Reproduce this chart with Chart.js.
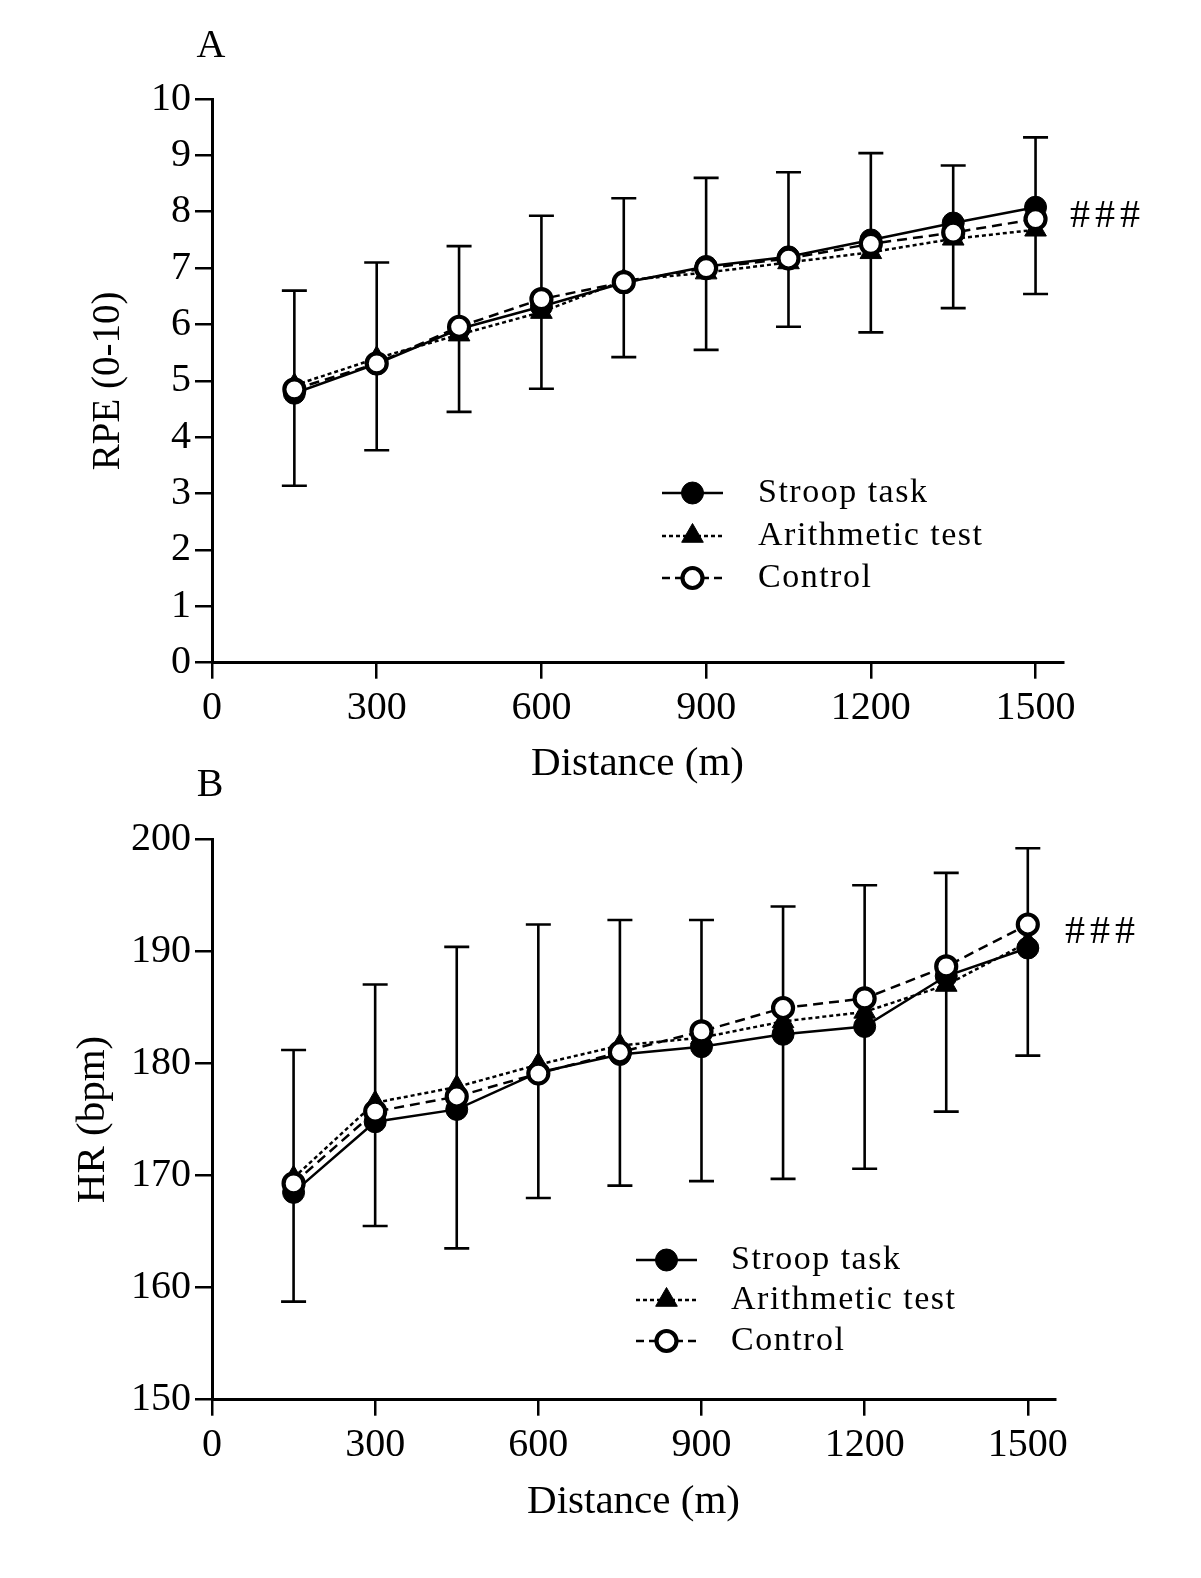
<!DOCTYPE html>
<html><head><meta charset="utf-8">
<style>
html,body{margin:0;padding:0;background:#fff;}
body{width:1201px;height:1578px;position:relative;overflow:hidden;}
canvas{position:absolute;left:0;}
#cA{top:0;}
#cB{top:740px;}
</style>
<script src="https://cdn.jsdelivr.net/npm/chart.js@4.4.1/dist/chart.umd.min.js"></script>
</head><body>
<canvas id="cA" width="1201" height="800"></canvas>
<canvas id="cB" width="1201" height="838"></canvas>
<script>
// ---------- data ----------
const distances = [150, 300, 450, 600, 750, 900, 1050, 1200, 1350, 1500];
const xTickValues = [0, 300, 600, 900, 1200, 1500];
const seriesNames = ['Stroop task', 'Arithmetic test', 'Control'];

const rpeStroop  = [4.78, 5.30, 5.92, 6.32, 6.74, 7.03, 7.20, 7.50, 7.80, 8.08];
const rpeArith   = [4.92, 5.40, 5.82, 6.22, 6.78, 6.92, 7.10, 7.28, 7.52, 7.68];
const rpeControl = [4.85, 5.31, 5.96, 6.45, 6.75, 7.00, 7.17, 7.43, 7.63, 7.87];
const rpeErrHigh = [6.60, 7.10, 7.39, 7.93, 8.24, 8.60, 8.70, 9.04, 8.82, 9.32];
const rpeErrLow  = [3.14, 3.77, 4.45, 4.86, 5.42, 5.55, 5.96, 5.86, 6.29, 6.54];

const hrStroop  = [168.5, 174.8, 175.9, 179.2, 180.8, 181.5, 182.6, 183.3, 187.8, 190.3];
const hrArith   = [169.8, 176.5, 177.9, 179.9, 181.6, 182.3, 183.75, 184.6, 187.0, 190.8];
const hrControl = [169.3, 175.7, 177.05, 179.1, 181.0, 182.86, 184.95, 185.8, 188.66, 192.4];
const hrErrHigh = [181.2, 187.05, 190.4, 192.4, 192.8, 192.8, 194.0, 195.9, 197.0, 199.2];
const hrErrLow  = [158.75, 165.5, 163.5, 168.0, 169.1, 169.5, 169.7, 170.6, 175.7, 180.7];

const sigMark = '###';

// ---------- styling ----------
const SERIF = "'Liberation Serif', 'Times New Roman', serif";
const styles = [
  {dash: [], legendDash: [], shape: 'circle', radius: 11, fill: '#000', bw: 1},
  {dash: [4, 3], legendDash: [4, 3], shape: 'triangle', radius: 12.5, fill: '#000', bw: 1},
  {dash: [10, 6], legendDash: [8, 5], shape: 'circle', radius: 10, fill: '#fff', bw: 4.2}
];
const drawOrder = [1, 2, 0];

function drawMarker(ctx, st, x, y) {
  ctx.save();
  ctx.setLineDash([]);
  ctx.fillStyle = st.fill;
  ctx.strokeStyle = '#000';
  ctx.lineWidth = st.bw;
  ctx.beginPath();
  if (st.shape === 'circle') {
    ctx.arc(x, y, st.radius, 0, Math.PI * 2);
  } else {
    let rad = 0;
    ctx.moveTo(x + Math.sin(rad) * st.radius, y - Math.cos(rad) * st.radius);
    rad += 2 * Math.PI / 3;
    ctx.lineTo(x + Math.sin(rad) * st.radius, y - Math.cos(rad) * st.radius);
    rad += 2 * Math.PI / 3;
    ctx.lineTo(x + Math.sin(rad) * st.radius, y - Math.cos(rad) * st.radius);
    ctx.closePath();
  }
  ctx.fill();
  ctx.stroke();
  ctx.restore();
}

function makeDatasets(values) {
  return values.map((vals, k) => {
    const st = styles[k];
    return {
      label: seriesNames[k],
      data: distances.map((d, i) => ({x: d, y: vals[i]})),
      borderColor: '#000',
      borderWidth: 2.5,
      borderDash: st.dash,
      tension: 0,
      fill: false,
      pointStyle: st.shape,
      pointRadius: st.radius,
      pointHoverRadius: st.radius,
      pointBackgroundColor: st.fill,
      pointBorderColor: '#000',
      pointBorderWidth: st.bw,
      order: drawOrder[k]
    };
  });
}

function makePlugin(p) {
  return {
    id: 'decor' + p.letter,
    beforeDatasetsDraw(chart) {
      const ctx = chart.ctx, xs = chart.scales.x, ys = chart.scales.y;
      ctx.save();
      ctx.strokeStyle = '#000';
      ctx.lineWidth = 2.6;
      ctx.setLineDash([]);
      p.errHigh.forEach((h, i) => {
        const x = xs.getPixelForValue(distances[i]);
        const yt = ys.getPixelForValue(h);
        const yb = ys.getPixelForValue(p.errLow[i]);
        ctx.beginPath();
        ctx.moveTo(x, yt); ctx.lineTo(x, yb);
        ctx.moveTo(x - 12.5, yt); ctx.lineTo(x + 12.5, yt);
        ctx.moveTo(x - 12.5, yb); ctx.lineTo(x + 12.5, yb);
        ctx.stroke();
      });
      ctx.restore();
    },
    afterDraw(chart) {
      const ctx = chart.ctx;
      ctx.save();
      ctx.fillStyle = '#000';
      // panel letter
      ctx.font = '40px ' + SERIF;
      ctx.textAlign = 'center';
      ctx.textBaseline = 'middle';
      ctx.fillText(p.letter, p.letterX, p.letterY);
      // significance mark
      ctx.textAlign = 'left';
      ctx.letterSpacing = '5px';
      ctx.fillText(sigMark, p.sigX, p.sigY);
      ctx.letterSpacing = '0px';
      // legend
      seriesNames.forEach((name, k) => {
        const st = styles[k];
        const y = p.legY[k];
        ctx.save();
        ctx.strokeStyle = '#000';
        ctx.lineWidth = 2.4;
        ctx.setLineDash(st.legendDash);
        ctx.beginPath();
        ctx.moveTo(p.legX0, y);
        ctx.lineTo(p.legX1, y);
        ctx.stroke();
        ctx.restore();
        drawMarker(ctx, st, (p.legX0 + p.legX1) / 2, y);
        ctx.fillStyle = '#000';
        ctx.font = '34px ' + SERIF;
        ctx.textAlign = 'left';
        ctx.textBaseline = 'middle';
        ctx.letterSpacing = '1.5px';
        ctx.fillText(name, p.legText, y);
        ctx.letterSpacing = '0px';
      });
      ctx.restore();
    }
  };
}

function makeChart(canvasId, p) {
  return new Chart(document.getElementById(canvasId), {
    type: 'line',
    data: {datasets: makeDatasets(p.values)},
    options: {
      responsive: false,
      animation: false,
      devicePixelRatio: 1,
      events: [],
      layout: {padding: p.padding},
      plugins: {legend: {display: false}, tooltip: {enabled: false}},
      scales: {
        x: {
          type: 'linear', min: 0, max: 1550,
          afterBuildTicks: s => { s.ticks = xTickValues.map(v => ({value: v})); },
          afterFit: s => { s.height = p.xAxisHeight; },
          grid: {drawOnChartArea: false, drawTicks: true, tickLength: 16, color: '#000', lineWidth: 2.5},
          border: {display: true, color: '#000', width: 3},
          ticks: {color: '#000', font: {family: SERIF, size: 40}, padding: 6, maxRotation: 0, autoSkip: false, includeBounds: false,
                   callback: v => String(v)},
          title: {display: true, text: 'Distance (m)', color: '#000', font: {family: SERIF, size: 41}, padding: {top: 0, bottom: p.xTitlePad}}
        },
        y: {
          type: 'linear', min: p.yMin, max: p.yMax,
          afterFit: s => { s.width = 212; },
          grid: {drawOnChartArea: false, drawTicks: true, tickLength: 17, color: '#000', lineWidth: 2.5},
          border: {display: true, color: '#000', width: 3},
          ticks: {stepSize: p.yStep, color: '#000', font: {family: SERIF, size: 40}, padding: 4,
                  callback: v => String(v)},
          title: {display: true, text: p.yTitle, color: '#000', font: {family: SERIF, size: p.yTitleSize}, padding: {top: p.yTitlePad, bottom: 0}}
        }
      }
    },
    plugins: [makePlugin(p)]
  });
}

makeChart('cA', {
  values: [rpeStroop, rpeArith, rpeControl],
  errHigh: rpeErrHigh, errLow: rpeErrLow,
  padding: {left: 0, top: 99, right: 138, bottom: 0},
  xAxisHeight: 137.3, xTitlePad: 11,
  yMin: 0, yMax: 10, yStep: 1,
  yTitle: 'RPE (0-10)', yTitleSize: 39, yTitlePad: 85,
  letter: 'A', letterX: 211, letterY: 46,
  sigX: 1070, sigY: 216,
  legX0: 662, legX1: 723, legText: 758, legY: [493, 536, 578]
});

makeChart('cB', {
  values: [hrStroop, hrArith, hrControl],
  errHigh: hrErrHigh, errLow: hrErrLow,
  padding: {left: 0, top: 99.3, right: 146, bottom: 0},
  xAxisHeight: 178.3, xTitlePad: 51,
  yMin: 150, yMax: 200, yStep: 10,
  yTitle: 'HR (bpm)', yTitleSize: 41, yTitlePad: 69,
  letter: 'B', letterX: 210, letterY: 45,
  sigX: 1065, sigY: 192,
  legX0: 636, legX1: 697, legText: 731, legY: [520, 560, 601]
});
</script>
</body></html>
